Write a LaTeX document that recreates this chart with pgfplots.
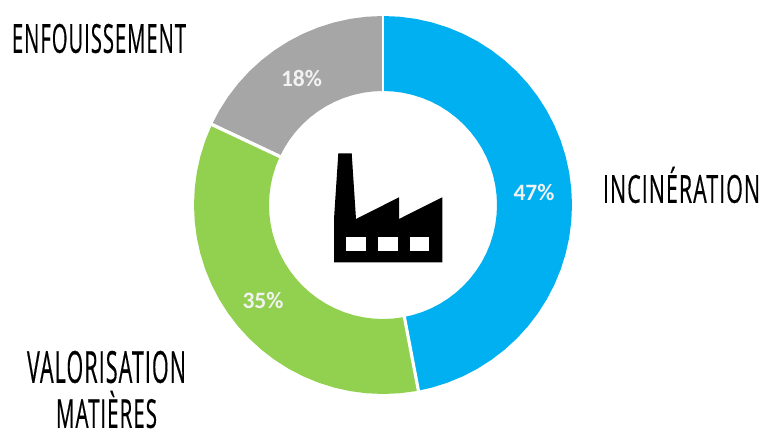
\documentclass[border=0pt]{standalone}
\usepackage{pgfplots}
\pgfplotsset{compat=1.18}
\usepgfplotslibrary{polar}
\usepackage{graphicx}
\usepackage{fontspec}
\setmainfont{Open Sans}[LetterSpace=5,FakeBold=0.6]
\newfontfamily\pct{Carlito}[BoldFont=Carlito Bold]
\definecolor{cblue}{HTML}{00B0F0}
\definecolor{cgreen}{HTML}{92D050}
\definecolor{cgray}{HTML}{A6A6A6}
\definecolor{cpct}{HTML}{F2F2F2}
\newcommand{\hand}[3]{\resizebox{#1bp}{#2bp}{#3}}
\begin{document}
\begin{tikzpicture}[x=1bp,y=1bp]
\begin{axis}[at={(0bp,0bp)},anchor=south west,scale only axis,width=762bp,height=431bp,
  xmin=0,xmax=762,ymin=0,ymax=431,y dir=reverse,hide axis,clip=false]
\addplot[draw=none,forget plot] coordinates {(0,0)(762,431)};
\end{axis}
\begin{polaraxis}[at={(194bp,37bp)},anchor=south west,scale only axis,width=378bp,height=378bp,
  ymin=0,ymax=189,hide axis,clip=false]
% Incineration 47%
\addplot[fill=cblue,draw=none,forget plot] coordinates {
(90,189)(85,189)(80,189)(75,189)(70,189)(65,189)(60,189)(55,189)(50,189)(45,189)(40,189)(35,189)(30,189)(25,189)(20,189)(15,189)(10,189)(5,189)(0,189)
(-5,189)(-10,189)(-15,189)(-20,189)(-25,189)(-30,189)(-35,189)(-40,189)(-45,189)(-50,189)(-55,189)(-60,189)(-65,189)(-70,189)(-75,189)(-79.2,189)
(-79.2,114)(-75,114)(-70,114)(-65,114)(-60,114)(-55,114)(-50,114)(-45,114)(-40,114)(-35,114)(-30,114)(-25,114)(-20,114)(-15,114)(-10,114)(-5,114)
(0,114)(5,114)(10,114)(15,114)(20,114)(25,114)(30,114)(35,114)(40,114)(45,114)(50,114)(55,114)(60,114)(65,114)(70,114)(75,114)(80,114)(85,114)(90,114)
} -- cycle;
% Valorisation 35%
\addplot[fill=cgreen,draw=none,forget plot] coordinates {
(-79.2,189)(-80,189)(-85,189)(-90,189)(-95,189)(-100,189)(-105,189)(-110,189)(-115,189)(-120,189)(-125,189)(-130,189)(-135,189)(-140,189)(-145,189)(-150,189)(-155,189)(-160,189)(-165,189)(-170,189)(-175,189)(-180,189)(-185,189)(-190,189)(-195,189)(-200,189)(-205,189)(-205.2,189)
(-205.2,114)(-205,114)(-200,114)(-195,114)(-190,114)(-185,114)(-180,114)(-175,114)(-170,114)(-165,114)(-160,114)(-155,114)(-150,114)(-145,114)(-140,114)(-135,114)(-130,114)(-125,114)(-120,114)(-115,114)(-110,114)(-105,114)(-100,114)(-95,114)(-90,114)(-85,114)(-80,114)(-79.2,114)
} -- cycle;
% Enfouissement 18%
\addplot[fill=cgray,draw=none,forget plot] coordinates {
(-205.2,189)(-210,189)(-215,189)(-220,189)(-225,189)(-230,189)(-235,189)(-240,189)(-245,189)(-250,189)(-255,189)(-260,189)(-265,189)(-270,189)
(-270,114)(-265,114)(-260,114)(-255,114)(-250,114)(-245,114)(-240,114)(-235,114)(-230,114)(-225,114)(-220,114)(-215,114)(-210,114)(-205.2,114)
} -- cycle;
% separators
\addplot[white,line width=3.2bp,forget plot] coordinates {(-79.2,112)(-79.2,191)};
\addplot[white,line width=3.4bp,forget plot] coordinates {(-205.2,112)(-205.2,191)};
\addplot[white,line width=1.6bp,forget plot] coordinates {(90,112)(90,191)};
\end{polaraxis}
\begin{axis}[at={(0bp,0bp)},anchor=south west,scale only axis,width=762bp,height=431bp,
  xmin=0,xmax=762,ymin=0,ymax=431,y dir=reverse,hide axis,clip=false]
\addplot[fill=black,draw=none,forget plot] coordinates {
(338.3,153.3)(351.7,153.3)(356,219)(399,197.3)(399,219)(442.3,197.3)(442.3,262.3)(334,262.3)(334,219)} -- cycle;
\addplot[fill=white,draw=none,forget plot] coordinates {(346.3,236.7)(365.7,236.7)(365.7,250.7)(346.3,250.7)} -- cycle;
\addplot[fill=white,draw=none,forget plot] coordinates {(378.3,236.7)(397.7,236.7)(397.7,250.7)(378.3,250.7)} -- cycle;
\addplot[fill=white,draw=none,forget plot] coordinates {(410.3,236.7)(429.3,236.7)(429.3,250.7)(410.3,250.7)} -- cycle;
\node[text=cpct,font=\pct\bfseries\fontsize{23.5bp}{26bp}\selectfont] at (axis cs:301.5,78) {18\%};
\node[text=cpct,font=\pct\bfseries\fontsize{23.5bp}{26bp}\selectfont] at (axis cs:534,192) {47\%};
\node[text=cpct,font=\pct\bfseries\fontsize{23.5bp}{26bp}\selectfont] at (axis cs:263,300) {35\%};
\node[inner sep=0pt] at (axis cs:99,38.5) {\hand{174}{29}{ENFOUISSEMENT}};
\node[inner sep=0pt] at (axis cs:681.5,185) {\hand{157}{36}{INCINÉRATION}};
\node[inner sep=0pt] at (axis cs:106.5,367) {\hand{159}{32}{VALORISATION}};
\node[inner sep=0pt] at (axis cs:106.5,409.5) {\hand{101}{37}{MATIÈRES}};
\end{axis}
\end{tikzpicture}
\end{document}
